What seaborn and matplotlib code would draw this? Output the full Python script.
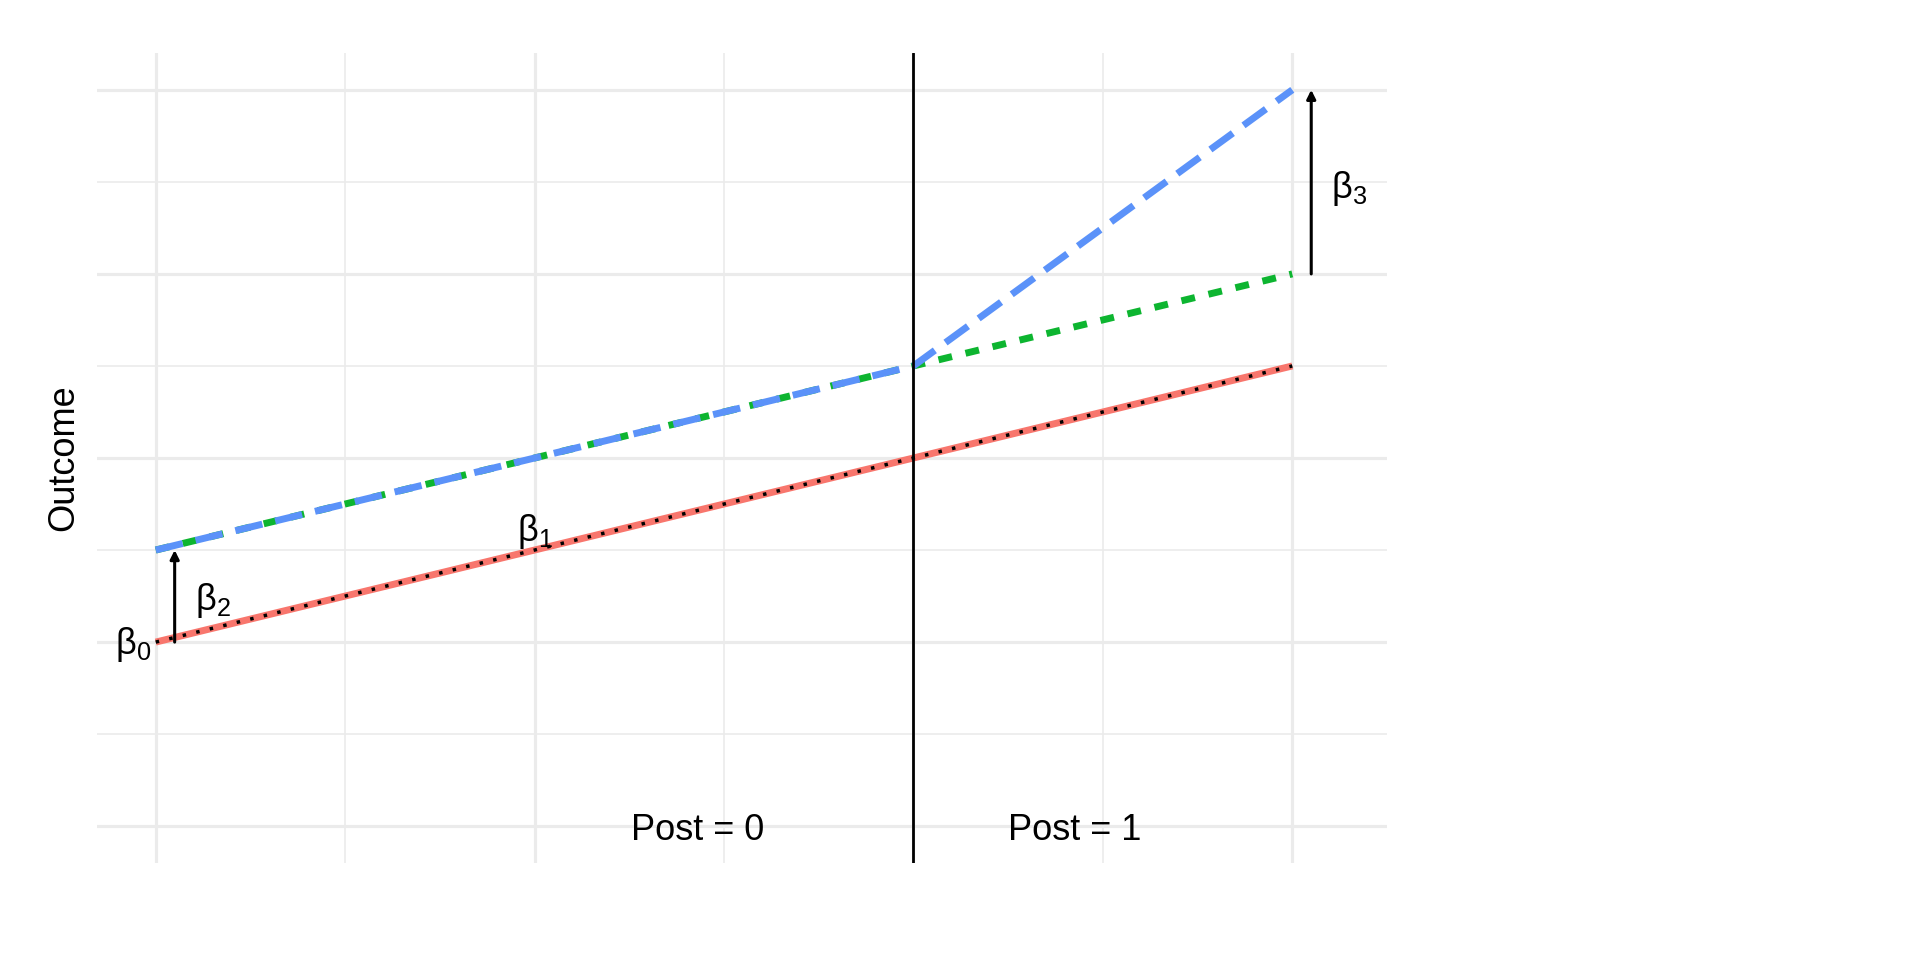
import matplotlib
matplotlib.use("Agg")
import matplotlib.pyplot as plt
import seaborn as sns
import pandas as pd

# ---- data ----
time = [0, 4, 6]
control = [2, 4, 5]
treated = [3, 5, 8]
counterfactual = [3, 5, 6]
post_labels = ["Post = 0", "Post = 1"]
beta_labels = [r"$\mathrm{\beta}_0$", r"$\mathrm{\beta}_1$", r"$\mathrm{\beta}_2$", r"$\mathrm{\beta}_3$"]
y_label = "Outcome"

sns.set_theme(style="white")
plt.rcParams["font.family"] = ["Liberation Sans", "DejaVu Sans"]
plt.rcParams["mathtext.fontset"] = "custom"
plt.rcParams["mathtext.rm"] = "Liberation Sans"
plt.rcParams["mathtext.it"] = "Liberation Sans"
plt.rcParams["text.color"] = "black"
plt.rcParams["axes.labelcolor"] = "black"

RED = "#F8766D"
GREEN = "#0DB530"
BLUE = "#5B92F9"
GRID = "#EBEBEB"
FS = 26

fig = plt.figure(figsize=(19.2, 9.6), dpi=100)
ax = fig.add_axes([97 / 1920, 1 - 863 / 960, 1290 / 1920, 810 / 960])

ax.set_xlim(-0.31, 6.5)
ax.set_ylim(-0.4, 8.4)

# grid
for xv in [0, 2, 4, 6]:
    ax.axvline(xv, color=GRID, lw=2.3, zorder=0)
for xv in [1, 3, 5]:
    ax.axvline(xv, color=GRID, lw=1.2, zorder=0)
for yv in [0, 2, 4, 6, 8]:
    ax.axhline(yv, color=GRID, lw=2.3, zorder=0)
for yv in [1, 3, 5, 7]:
    ax.axhline(yv, color=GRID, lw=1.2, zorder=0)

df = pd.DataFrame({"time": time, "control": control, "treated": treated,
                   "counterfactual": counterfactual})

sns.lineplot(data=df, x="time", y="control", color=RED, lw=5, ax=ax, zorder=3,
             solid_capstyle="butt")
sns.lineplot(data=df, x="time", y="control", color="black", lw=2.5, ax=ax, zorder=4,
             linestyle=(0, (1, 3)), dash_capstyle="butt")
sns.lineplot(data=df, x="time", y="counterfactual", color=GREEN, lw=5, ax=ax, zorder=3,
             linestyle=(0, (2, 2)), dash_capstyle="butt")
sns.lineplot(data=df, x="time", y="treated", color=BLUE, lw=5, ax=ax, zorder=4,
             linestyle=(0, (4, 1.9)), dash_capstyle="butt")

ax.axvline(4, color="black", lw=2, zorder=5)

# arrows
arrow = dict(arrowstyle="-|>", lw=2.2, color="black", mutation_scale=13,
             shrinkA=0, shrinkB=0)
ax.annotate("", xy=(0.1, treated[0]), xytext=(0.1, control[0]), arrowprops=arrow, zorder=6)
ax.annotate("", xy=(6.1, treated[2]), xytext=(6.1, counterfactual[2]), arrowprops=arrow, zorder=6)

# labels
ax.text(-0.12, 1.97, beta_labels[0], fontsize=FS, ha="center", va="center", zorder=7)
ax.text(2.0, 3.2, beta_labels[1], fontsize=FS, ha="center", va="center", zorder=7)
ax.text(0.3, 2.45, beta_labels[2], fontsize=FS, ha="center", va="center", zorder=7)
ax.text(6.3, 6.93, beta_labels[3], fontsize=FS, ha="center", va="center", zorder=7)
ax.text(2.86, -0.147, post_labels[0], fontsize=FS, ha="center", va="baseline", zorder=7)
ax.text(4.85, -0.147, post_labels[1], fontsize=FS, ha="center", va="baseline", zorder=7)

ax.set_xlabel("")
ax.set_ylabel(y_label, fontsize=FS, va="center")
ax.yaxis.set_label_coords(-0.0255, 0.5)
ax.set_xticks([])
ax.set_yticks([])
for s in ax.spines.values():
    s.set_visible(False)
if ax.get_legend() is not None:
    ax.get_legend().remove()

fig.savefig("out.png", dpi=100, facecolor="white")
